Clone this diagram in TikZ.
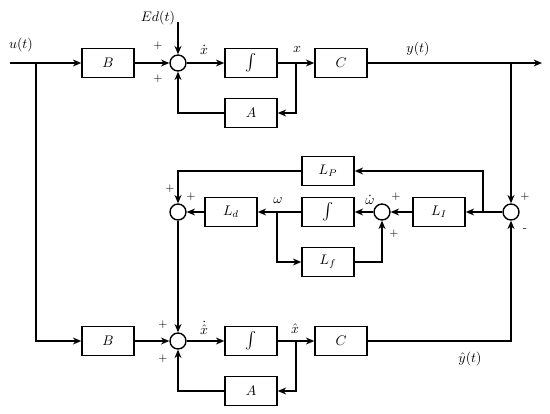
\documentclass[tikz,border=0pt]{standalone}
\usepackage{amsmath,amssymb}
\usetikzlibrary{positioning,arrows.meta,calc}
\tikzset{%
  block/.style={draw, rectangle, line width=1pt, minimum width=37.5pt, minimum height=21pt},% transfer block
  summer/.style={draw, circle, line width=1pt, minimum size=11.5pt, inner sep=0pt},% summing junction
  sig/.style={line width=1pt, -{Stealth[length=6pt,width=5pt]}},% signal line
  wire/.style={line width=1pt},% plain signal line
  sgn/.style={font=\footnotesize, inner sep=1pt},% sign at a junction
  lbl/.style={inner sep=1pt}% signal name
}
\newcommand*{\integ}{{\large$\int$}}
\begin{document}
\begin{tikzpicture}[x=0.72pt, y=-0.72pt]
\useasboundingbox (0,0) rectangle (550,413);

% plant
\coordinate (in) at (10,63);
\coordinate (u1) at (36,63);
\node[block] (B1) at (108,63) {$B$};
\node[summer] (s1) at (178,63) {};
\node[block] (int1) at (251,63) {\integ};
\coordinate (x1) at (296,63);
\node[block] (C1) at (341,63) {$C$};
\node[block] (A1) at (251,113) {$A$};
\coordinate (y1) at (511,63);
\coordinate (out) at (542,63);
\coordinate (dist) at (178,22);

% observer gains
\node[summer] (s3) at (511,212) {};
\coordinate (e1) at (483,212);
\node[block] (LI) at (439,212) {$L_I$};
\node[block] (LP) at (328,171) {$L_P$};
\node[summer] (s2) at (382,212) {};
\node[block] (int2) at (328,212) {\integ};
\coordinate (w1) at (277,212);
\node[block] (Lf) at (328,262) {$L_f$};
\node[block] (Ld) at (231,212) {$L_d$};
\node[summer] (s4) at (178,212) {};

% observer
\node[block] (B2) at (108,341) {$B$};
\node[summer] (s5) at (178,341) {};
\node[block] (int3) at (251,341) {\integ};
\coordinate (x2) at (296,341);
\node[block] (C2) at (341,341) {$C$};
\node[block] (A2) at (251,391) {$A$};

% plant lines
\draw[wire] (in) -- (u1);
\draw[sig] (u1) -- (B1);
\draw[sig] (u1) |- (B2);
\draw[sig] (B1) -- (s1);
\draw[sig] (dist) -- (s1);
\draw[sig] (s1) -- (int1);
\draw[wire] (int1) -- (x1);
\draw[sig] (x1) -- (C1);
\draw[sig] (x1) |- (A1);
\draw[sig] (A1) -| (s1);
\draw[sig] (C1) -- (out);
\draw[sig] (y1) -- (s3);

% gain lines
\draw[sig] (s3) -- (LI);
\draw[sig] (e1) |- (LP);
\draw[sig] (LP) -| (s4);
\draw[sig] (LI) -- (s2);
\draw[sig] (s2) -- (int2);
\draw[sig] (int2) -- (Ld);
\draw[sig] (w1) |- (Lf);
\draw[sig] (Lf) -| (s2);
\draw[sig] (Ld) -- (s4);
\draw[sig] (s4) -- (s5);

% observer lines
\draw[sig] (B2) -- (s5);
\draw[sig] (s5) -- (int3);
\draw[wire] (int3) -- (x2);
\draw[sig] (x2) -- (C2);
\draw[sig] (x2) |- (A2);
\draw[sig] (A2) -| (s5);
\draw[sig] (C2) -| (s3);

% signal names
\node[lbl] at (21,45) {$u(t)$};
\node[lbl] at (158,18) {$Ed(t)$};
\node[lbl] at (204,50) {$\dot{x}$};
\node[lbl] at (297,50) {$x$};
\node[lbl] at (418,49) {$y(t)$};
\node[lbl] at (278,201) {$\omega$};
\node[lbl] at (370,200) {$\dot{\omega}$};
\node[lbl] at (204,328) {$\dot{\hat{x}}$};
\node[lbl] at (295,329) {$\hat{x}$};
\node[lbl] at (470,359) {$\hat{y}(t)$};

% signs
\node[sgn] at (158,46) {$+$};
\node[sgn] at (158,79) {$+$};
\node[sgn] at (170,189) {$+$};
\node[sgn] at (191,197) {$+$};
\node[sgn] at (396,197) {$+$};
\node[sgn] at (394,234) {$+$};
\node[sgn] at (525,197) {$+$};
\node[sgn] at (525,230) {-};
\node[sgn] at (163,325) {$+$};
\node[sgn] at (163,359) {$+$};
\end{tikzpicture}
\end{document}
